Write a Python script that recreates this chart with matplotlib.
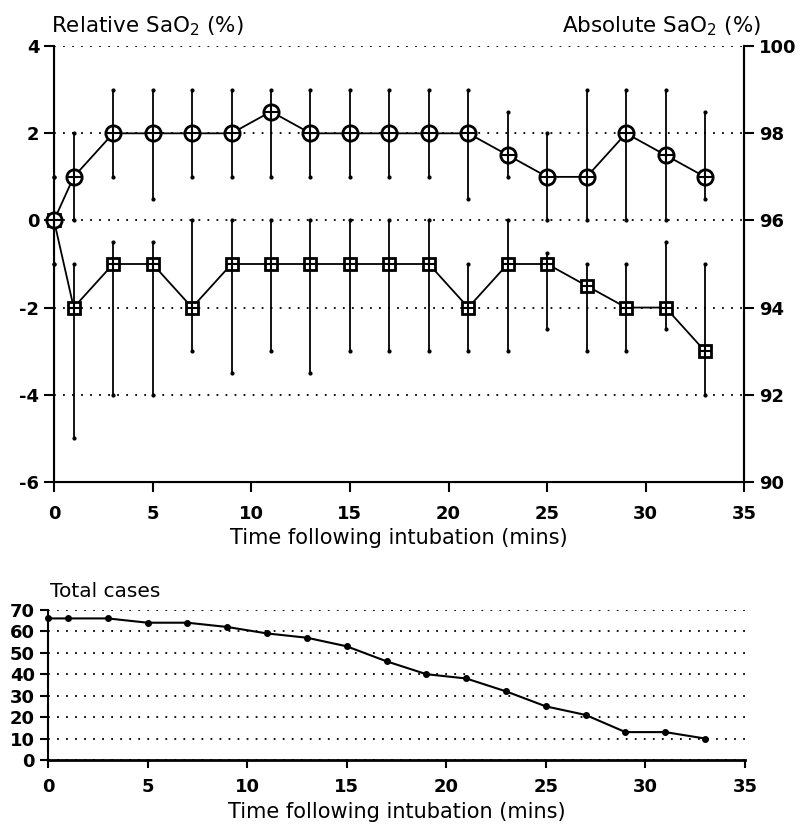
import numpy as np
import matplotlib.pyplot as plt

plt.rcParams['font.family'] = ['DejaVu Sans']
plt.rcParams['mathtext.default'] = 'regular'
plt.rcParams['axes.unicode_minus'] = False

# data
time = [0, 1, 3, 5, 7, 9, 11, 13, 15, 17, 19, 21, 23, 25, 27, 29, 31, 33]

circ = [0, 1, 2, 2, 2, 2, 2.5, 2, 2, 2, 2, 2, 1.5, 1, 1, 2, 1.5, 1]
circ_lo = [-1, 0, 1, 0.5, 1, 1, 1, 1, 1, 1, 1, 0.5, 1, 0, 0, 0, 0, 0.5]
circ_hi = [1, 2, 3, 3, 3, 3, 3, 3, 3, 3, 3, 3, 2.5, 2, 3, 3, 3, 2.5]

sq = [0, -2, -1, -1, -2, -1, -1, -1, -1, -1, -1, -2, -1, -1, -1.5, -2, -2, -3]
sq_lo = [-1, -5, -4, -4, -3, -3.5, -3, -3.5, -3, -3, -3, -3, -3, -2.5, -3, -3, -2.5, -4]
sq_hi = [1, -1, -0.5, -0.5, 0, 0, 0, 0, 0, 0, 0, -1, 0, -0.75, -1, -1, -0.5, -1]

cases = [66, 66, 66, 64, 64, 62, 59, 57, 53, 46, 40, 38, 32, 25, 21, 13, 13, 10]

xticks = [0, 5, 10, 15, 20, 25, 30, 35]
dots = (0, (1, 4))

fig = plt.figure(figsize=(8.01, 8.25), dpi=100)

# ---- top panel
ax = fig.add_axes([0.0674, 0.416, 0.862, 0.528])
for y, lo, hi in [(circ, circ_lo, circ_hi), (sq, sq_lo, sq_hi)]:
    y = np.array(y)
    ax.errorbar(time, y, yerr=[y - np.array(lo), np.array(hi) - y], fmt='none',
                ecolor='k', elinewidth=1.3, capsize=0, zorder=2)
    ax.plot(time, lo, 'k.', ms=4, zorder=2, clip_on=False)
    ax.plot(time, hi, 'k.', ms=4, zorder=2, clip_on=False)
    ax.plot(time, y, 'k-', lw=1.3, zorder=3)

ax.plot(time, sq, 's', mfc='white', mec='k', ms=8.5, mew=2, zorder=4, clip_on=False)
ax.plot(time, sq, '+', mec='k', ms=8.5, mew=1.5, zorder=5, clip_on=False)
ax.plot(time, circ, 'o', mfc='white', mec='k', ms=11, mew=2, zorder=6, clip_on=False)
ax.plot(time, circ, '+', mec='k', ms=11, mew=1.5, zorder=7, clip_on=False)

ax.set_xlim(0, 35)
ax.set_ylim(-6, 4)
ax.set_xticks(xticks)
ax.set_yticks([-6, -4, -2, 0, 2, 4])
ax.yaxis.grid(True, linestyle=dots, color='k', lw=1.3)
ax.spines['top'].set_visible(False)
for s in ['left', 'right', 'bottom']:
    ax.spines[s].set_linewidth(1.5)
ax.tick_params(direction='out', length=7, width=1.5, labelsize=13)
ax.tick_params(axis='x', pad=10)
for lab in ax.get_xticklabels() + ax.get_yticklabels():
    lab.set_fontweight('bold')
ax.set_xlabel('Time following intubation (mins)', fontsize=15, labelpad=3)

ax2 = ax.twinx()
ax2.set_ylim(90, 100)
ax2.set_yticks([90, 92, 94, 96, 98, 100])
ax2.spines['top'].set_visible(False)
ax2.spines['right'].set_linewidth(1.5)
ax2.tick_params(direction='out', length=7, width=1.5, labelsize=13)
for lab in ax2.get_yticklabels():
    lab.set_fontweight('bold')

fig.text(0.064, 0.954, 'Relative SaO$_2$ (%)', fontsize=15.5, ha='left', va='bottom')
fig.text(0.95, 0.954, 'Absolute SaO$_2$ (%)', fontsize=15.5, ha='right', va='bottom')

# ---- bottom panel
bx = fig.add_axes([0.06, 0.0788, 0.87, 0.182])
bx.plot(time, cases, 'k-', lw=1.5, marker='o', ms=4, clip_on=False)
bx.set_xlim(0, 35)
bx.set_ylim(0, 70)
bx.set_xticks(xticks)
bx.set_yticks(range(0, 80, 10))
bx.yaxis.grid(True, linestyle=dots, color='k', lw=1.3)
bx.spines['top'].set_visible(False)
bx.spines['right'].set_visible(False)
bx.spines['left'].set_linewidth(1.5)
bx.spines['bottom'].set_linewidth(2)
bx.tick_params(direction='out', length=6, width=1.5, labelsize=13)
bx.tick_params(axis='x', pad=7)
for lab in bx.get_xticklabels() + bx.get_yticklabels():
    lab.set_fontweight('bold')
bx.set_xlabel('Time following intubation (mins)', fontsize=15, labelpad=4)
fig.text(0.062, 0.272, 'Total cases', fontsize=14.5, ha='left', va='bottom')

plt.savefig('out.png', dpi=100)
